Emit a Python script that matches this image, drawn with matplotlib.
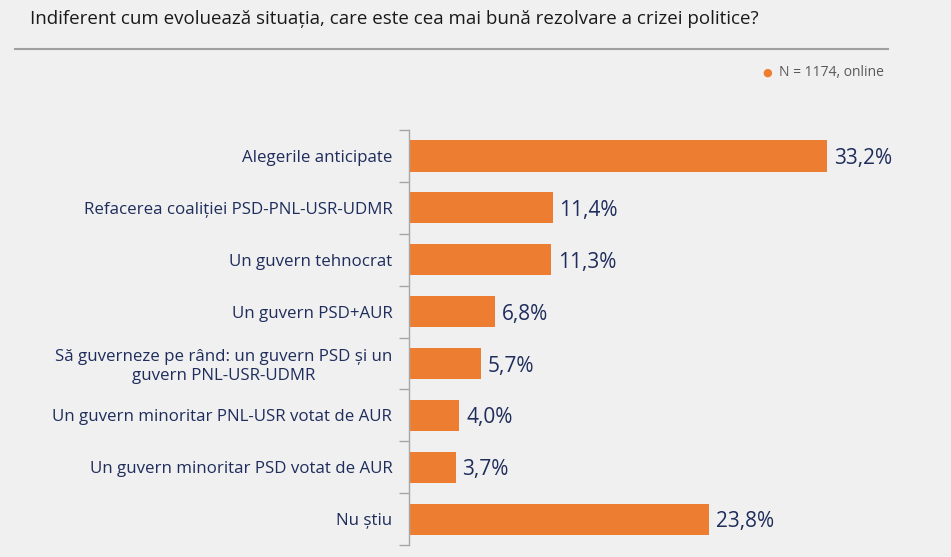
import numpy as np
import matplotlib.pyplot as plt
from matplotlib.lines import Line2D

# Data
# ======================================================
TITLE = "Indiferent cum evoluează situația, care este cea mai bună rezolvare a crizei politice?"
NOTE = "N = 1174, online"
categories = [
    "Alegerile anticipate",
    "Refacerea coaliției PSD-PNL-USR-UDMR",
    "Un guvern tehnocrat",
    "Un guvern PSD+AUR",
    "Să guverneze pe rând: un guvern PSD și un\nguvern PNL-USR-UDMR",
    "Un guvern minoritar PNL-USR votat de AUR",
    "Un guvern minoritar PSD votat de AUR",
    "Nu știu",
]
values = [33.2, 11.4, 11.3, 6.8, 5.7, 4.0, 3.7, 23.8]

BG = "#F0F0F0"
ORANGE = "#ED7D31"
NAVY = "#1F2D5C"
FONT = "Open Sans"

# Plot
# ======================================================
fig = plt.figure(figsize=(9.51, 5.57), dpi=100, facecolor=BG)
ax = fig.add_axes([0.430, 0.0215, 0.53, 0.745], facecolor=BG)

y = np.arange(len(categories))
ax.barh(y, values, height=0.6, color=ORANGE)
for yi, v in zip(y, values):
    ax.text(v + 0.55, yi + 0.05, f"{v:.1f}%".replace(".", ","), va="center", ha="left",
            fontsize=15, color=NAVY, family=FONT)

ax.set_ylim(len(categories) - 0.5, -0.5)
ax.set_xlim(0, 40.0)
ax.set_yticks(y)
labels = ax.set_yticklabels(categories, fontsize=12.2, color=NAVY, family=FONT, linespacing=1.25)
for lab in labels:
    lab.set_multialignment("center")
ax.tick_params(axis="y", which="major", length=0, pad=12)
ax.set_yticks(np.arange(len(categories) + 1) - 0.5, minor=True)
ax.tick_params(axis="y", which="minor", length=7, color="#A6A6A6", width=1)
ax.set_xticks([])
for s in ["top", "right", "bottom"]:
    ax.spines[s].set_visible(False)
ax.spines["left"].set_color("#A6A6A6")
ax.spines["left"].set_linewidth(1)

# Title, separator line and note
fig.text(30 / 951, 1 - 19 / 557, TITLE, fontsize=13.5, color="#1A1A1A", family=FONT,
         va="center", ha="left")
fig.add_artist(Line2D([15 / 951, 888 / 951], [1 - 49 / 557, 1 - 49 / 557],
                      color="#A0A0A0", linewidth=1.5))
fig.text(884 / 951, 1 - 73 / 557, NOTE, fontsize=10, color="#595959", family=FONT,
         va="center", ha="right")
fig.text(767 / 951, 1 - 73 / 557, "●", fontsize=8, color=ORANGE, family="DejaVu Sans",
         va="center", ha="center")

fig.savefig("out.png", dpi=100, facecolor=BG)
plt.close()
